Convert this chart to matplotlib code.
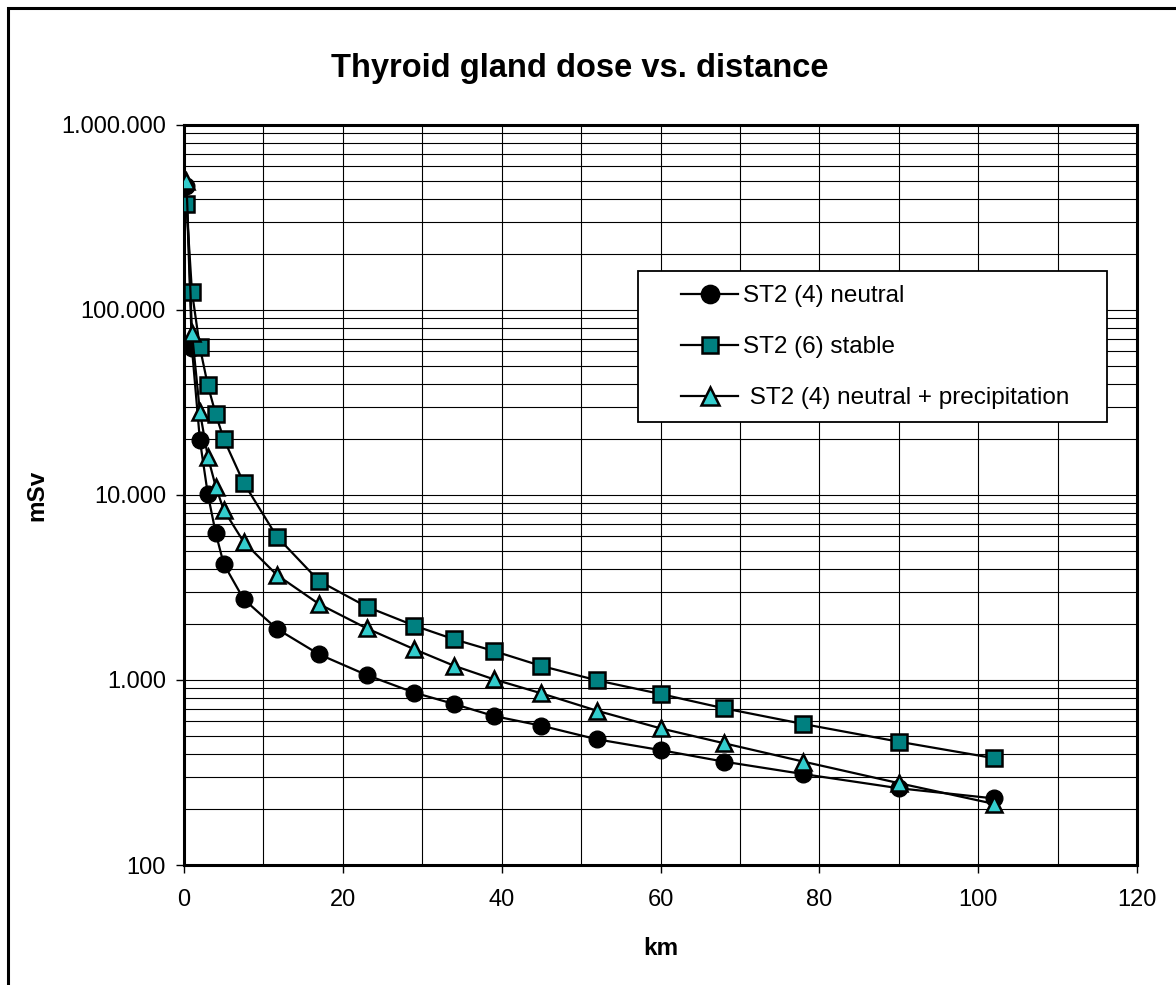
import matplotlib
matplotlib.use("Agg")
import matplotlib.pyplot as plt
from matplotlib.patches import Rectangle
from matplotlib.ticker import FixedLocator, FuncFormatter, LogLocator, MultipleLocator

plt.rcParams["font.family"] = ["Liberation Sans", "DejaVu Sans"]

# distance (km)
km = [0.3, 1, 2, 3, 4, 5, 7.5, 11.7, 17, 23, 29, 34, 39, 45, 52, 60, 68, 78, 90, 102]

# thyroid dose (mSv)
neutral = [468000, 62300, 19800, 10100, 6210, 4240, 2740, 1890, 1377, 1064,
           854, 742, 639, 566, 478, 418, 362, 310, 260, 229]
stable = [374000, 125700, 62900, 39200, 27300, 20100, 11660, 5950, 3430, 2490,
          1967, 1660, 1435, 1191, 996, 840, 703, 578, 464, 378]
neutral_precip = [500000, 75400, 28200, 16100, 11090, 8300, 5590, 3695, 2575, 1903,
                  1466, 1194, 1009, 847, 682, 548, 455, 362, 277, 214]

labels = ["ST2 (4) neutral", "ST2 (6) stable", " ST2 (4) neutral + precipitation"]

W, H = 1176, 985
fig = plt.figure(figsize=(W / 100, H / 100), dpi=100)
ax = fig.add_axes([184 / W, 1 - 865 / H, (1137 - 184) / W, (865 - 125) / H])


def fx(px):
    return px / W


def fy(py):
    return 1 - py / H


# chart area border (only left/top visible in the crop)
fig.patches.append(Rectangle((fx(8), -0.1), 1.2, fy(8) + 0.1,
                             transform=fig.transFigure, fill=False,
                             edgecolor="black", linewidth=2.2))

ax.plot(km, neutral, "-o", color="black", lw=1.6, ms=12,
        mfc="black", mec="black", label=labels[0], zorder=3)
ax.plot(km, stable, "-s", color="black", lw=1.6, ms=11,
        mfc="#008080", mec="black", mew=1.8, label=labels[1], zorder=3)
ax.plot(km, neutral_precip, "-^", color="black", lw=1.6, ms=12,
        mfc="#33CCCC", mec="black", mew=1.8, label=labels[2], zorder=4)

ax.set_yscale("log")
ax.set_ylim(100, 1000000)
ax.set_xlim(0, 120)

ax.xaxis.set_major_locator(MultipleLocator(20))
ax.xaxis.set_minor_locator(MultipleLocator(10))
ax.yaxis.set_major_locator(FixedLocator([100, 1000, 10000, 100000, 1000000]))
ax.yaxis.set_minor_locator(LogLocator(base=10, subs=range(2, 10)))


def dot_thousands(v, pos):
    return f"{int(round(v)):,}".replace(",", ".")


ax.yaxis.set_major_formatter(FuncFormatter(dot_thousands))
ax.yaxis.set_minor_formatter(FuncFormatter(lambda v, p: ""))

ax.grid(True, which="both", color="black", linewidth=0.8)
ax.set_axisbelow(True)
ax.tick_params(which="major", direction="out", length=6, width=1.0,
               labelsize=17, pad=7)
ax.tick_params(axis="x", pad=11)
ax.tick_params(which="minor", length=0)
for s in ax.spines.values():
    s.set_linewidth(2.2)

ax.set_xlabel("km", fontsize=17.5, fontweight="bold", labelpad=19)
ax.set_ylabel("mSv", fontsize=17.5, fontweight="bold", labelpad=9)
fig.text(fx(580), fy(69), "Thyroid gland dose vs. distance",
         ha="center", va="center", fontsize=23.5, fontweight="bold")

# legend frame drawn separately for exact placement
ax.add_patch(Rectangle((fx(638), fy(422)), fx(1107) - fx(638), fy(271) - fy(422),
                       transform=fig.transFigure, facecolor="white",
                       edgecolor="black", linewidth=1.3, zorder=5, clip_on=False))
leg = ax.legend(loc="upper left", bbox_to_anchor=(fx(681), fy(285)),
                bbox_transform=fig.transFigure,
                fontsize=17.5, frameon=False, borderpad=0,
                labelspacing=1.2, handlelength=2.35, handletextpad=0.2,
                borderaxespad=0, markerscale=1.1)
leg.set_zorder(6)

fig.savefig("out.png", dpi=100)
